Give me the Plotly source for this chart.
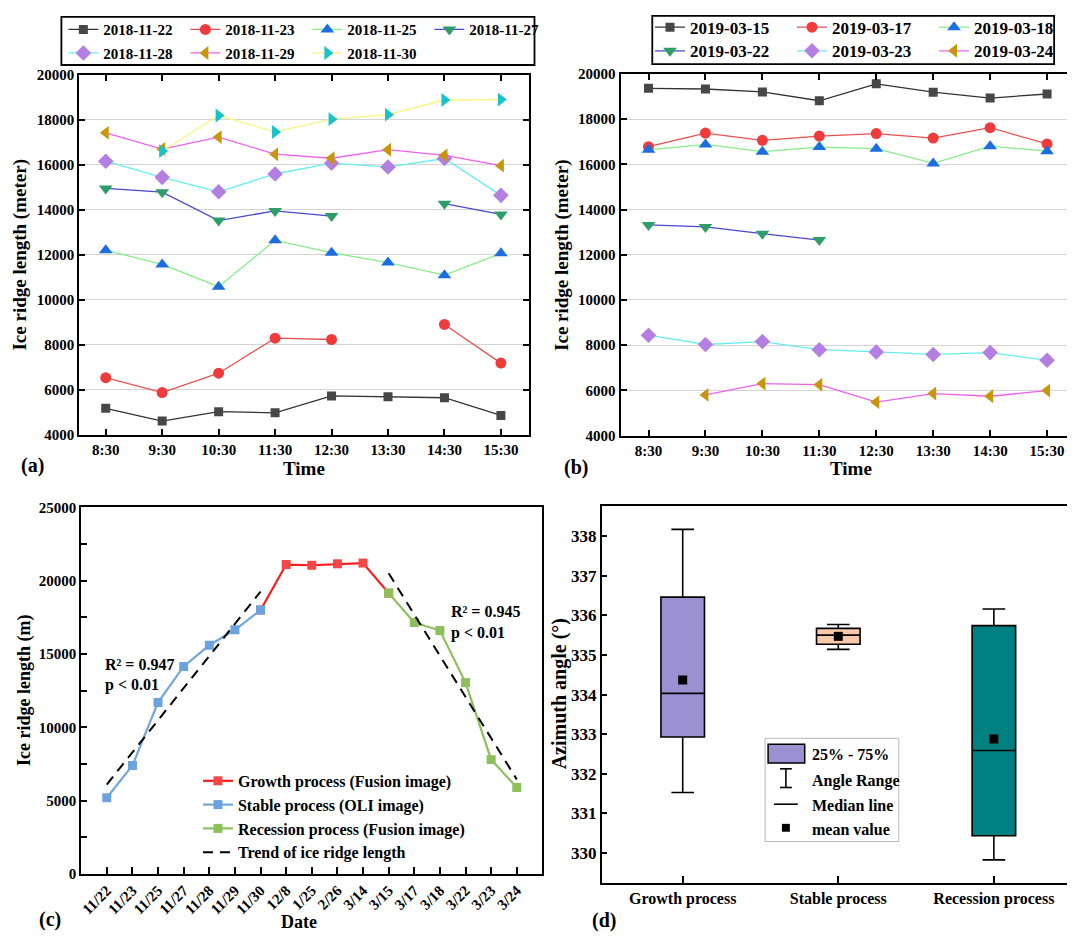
import plotly.graph_objects as go

W, H = 1076, 939
FONT = "Liberation Serif"

# ---------------- data ----------------
times = ["8:30", "9:30", "10:30", "11:30", "12:30", "13:30", "14:30", "15:30"]

dates_a = ["2018-11-22", "2018-11-23", "2018-11-25", "2018-11-27",
           "2018-11-28", "2018-11-29", "2018-11-30"]
a_1122 = [5170, 4600, 5020, 4970, 5720, 5680, 5640, 4850]
a_1123 = [6530, 5870, 6730, 8290, 8230, None, 8900, 7180]
a_1125 = [12200, 11570, 10580, 12640, 12090, 11650, 11090, 12060]
a_1127 = [14950, 14780, 13520, 13950, 13720, None, 14270, 13790]
a_1128 = [16160, 15440, 14800, 15590, 16070, 15900, 16280, 14640]
a_1129 = [17420, 16700, 17230, 16470, 16290, 16670, 16420, 15960]
a_1130 = [None, 16610, 18190, 17460, 18030, 18230, 18880, 18900]

dates_b = ["2019-03-15", "2019-03-17", "2019-03-18",
           "2019-03-22", "2019-03-23", "2019-03-24"]
b_0315 = [19360, 19330, 19200, 18810, 19560, 19190, 18930, 19110]
b_0317 = [16780, 17380, 17060, 17250, 17360, 17160, 17620, 16900]
b_0318 = [16640, 16880, 16560, 16760, 16690, 16040, 16800, 16580]
b_0322 = [13320, 13230, 12930, 12650, None, None, None, None]
b_0323 = [8440, 8030, 8160, 7800, 7700, 7590, 7670, 7330]
b_0324 = [None, 5800, 6300, 6250, 5480, 5860, 5740, 5990]

dates_c = ["11/22", "11/23", "11/25", "11/27", "11/28", "11/29", "11/30", "12/8",
           "1/25", "2/26", "3/14", "3/15", "3/17", "3/18", "3/22", "3/23", "3/24"]
growth_x = ["11/30", "12/8", "1/25", "2/26", "3/14", "3/15"]
growth_y = [18000, 21100, 21050, 21150, 21200, 19150]
stable_x = ["11/22", "11/23", "11/25", "11/27", "11/28", "11/29", "11/30"]
stable_y = [5200, 7400, 11700, 14150, 15600, 16650, 18000]
recess_x = ["3/15", "3/17", "3/18", "3/22", "3/23", "3/24"]
recess_y = [19150, 17150, 16600, 13050, 7800, 5900]
trend1_x = ["11/22", "11/30"]
trend1_y = [6100, 19250]
trend2_x = ["3/15", "3/24"]
trend2_y = [20500, 6450]

process = ["Growth process", "Stable process", "Recession process"]
q1 = [332.93, 335.27, 330.44]
median = [334.03, 335.50, 332.59]
q3 = [336.46, 335.67, 335.74]
lower = [331.53, 335.14, 329.83]
upper = [338.17, 335.77, 336.16]
mean = [334.37, 335.47, 332.88]

# ---------------- styles ----------------
styles = [  # (symbol, marker color, line color, size)
    ("square", "#474747", "#333333", 9),
    ("circle", "#ef3b3b", "#e85050", 11),
    ("triangle-up", "#1c6ee0", "#86ee86", 12),
    ("triangle-down", "#2e9e68", "#4848d0", 12),
    ("diamond", "#b47ee2", "#66eeee", 12),
    ("triangle-left", "#c8960c", "#f060f0", 12),
    ("triangle-right", "#18c2c8", "#f6f680", 12),
]
box_colors = ["#9b91d2", "#f9c9ab", "#008080"]


def px(x):
    return x / W


def py(y):
    return 1 - y / H


fig = go.Figure()

series_a = [a_1122, a_1123, a_1125, a_1127, a_1128, a_1129, a_1130]
for i, (name, vals) in enumerate(zip(dates_a, series_a)):
    sym, mc, lc, sz = styles[i]
    fig.add_trace(go.Scatter(
        x=times, y=vals, name=name, mode="lines+markers",
        line=dict(color=lc, width=1.3),
        marker=dict(symbol=sym, color=mc, size=sz, line=dict(width=0)),
        xaxis="x", yaxis="y", legend="legend" if i < 4 else "legend2"))

series_b = [b_0315, b_0317, b_0318, b_0322, b_0323, b_0324]
for i, (name, vals) in enumerate(zip(dates_b, series_b)):
    sym, mc, lc, sz = styles[i]
    fig.add_trace(go.Scatter(
        x=times, y=vals, name=name, mode="lines+markers",
        line=dict(color=lc, width=1.3),
        marker=dict(symbol=sym, color=mc, size=sz, line=dict(width=0)),
        xaxis="x2", yaxis="y2", legend="legend3" if i < 3 else "legend4"))

fig.add_trace(go.Scatter(
    x=growth_x, y=growth_y, name="Growth process (Fusion image)",
    mode="lines+markers", line=dict(color="#ff1a1a", width=2.2),
    marker=dict(symbol="square", color="#f24848", size=9),
    xaxis="x3", yaxis="y3", legend="legend5"))
fig.add_trace(go.Scatter(
    x=stable_x, y=stable_y, name="Stable process (OLI image)",
    mode="lines+markers", line=dict(color="#72a7dc", width=2.2),
    marker=dict(symbol="square", color="#6ba3dc", size=9),
    xaxis="x3", yaxis="y3", legend="legend5"))
fig.add_trace(go.Scatter(
    x=recess_x, y=recess_y, name="Recession process (Fusion image)",
    mode="lines+markers", line=dict(color="#8dc05a", width=2.2),
    marker=dict(symbol="square", color="#8dc05a", size=9),
    xaxis="x3", yaxis="y3", legend="legend5"))
fig.add_trace(go.Scatter(
    x=trend1_x, y=trend1_y, name="Trend of ice ridge length", mode="lines",
    line=dict(color="black", width=2, dash="10px,7px"),
    xaxis="x3", yaxis="y3", legend="legend5"))
fig.add_trace(go.Scatter(
    x=trend2_x, y=trend2_y, name="Trend of ice ridge length", mode="lines",
    line=dict(color="black", width=2, dash="10px,7px"), showlegend=False,
    xaxis="x3", yaxis="y3"))

for i, p in enumerate(process):
    fig.add_trace(go.Box(
        x=[p], q1=[q1[i]], median=[median[i]], q3=[q3[i]],
        lowerfence=[lower[i]], upperfence=[upper[i]],
        fillcolor=box_colors[i], line=dict(color="black", width=1.6),
        width=0.28, whiskerwidth=0.52, boxpoints=False, showlegend=False,
        xaxis="x4", yaxis="y4", name=p, hoverinfo="skip"))
fig.add_trace(go.Scatter(
    x=process, y=mean, mode="markers", showlegend=False,
    marker=dict(symbol="square", color="black", size=9),
    xaxis="x4", yaxis="y4"))

tickfont = dict(family=FONT, size=15, color="black", weight="bold")
axcommon = dict(showline=True, linecolor="black", linewidth=2, ticks="inside",
                tickcolor="black", tickwidth=1.5, zeroline=False,
                tickfont=tickfont)

fig.update_layout(
    width=W, height=H, margin=dict(l=0, r=0, t=0, b=0),
    paper_bgcolor="white", plot_bgcolor="white",
    font=dict(family=FONT, color="black", weight="bold"),
    xaxis=dict(domain=[px(78), px(532)], anchor="y", type="category",
               range=[-0.47, 7.49], mirror="ticks", ticklen=6,
               showgrid=False, **axcommon),
    yaxis=dict(domain=[py(434), py(68)], anchor="x", range=[4000, 20000],
               dtick=2000, tickformat="d", mirror="ticks", ticklen=6,
               showgrid=True, gridcolor="#d4d4d4", gridwidth=1, **axcommon),
    xaxis2=dict(domain=[px(625), 1], anchor="y2", type="category",
                range=[-0.49, 7.35], mirror="ticks", ticklen=6,
                showgrid=False, **axcommon),
    yaxis2=dict(domain=[py(435), py(67)], anchor="x2", range=[4000, 20000],
                dtick=2000, tickformat="d", mirror=False, ticklen=6,
                showgrid=True, gridcolor="#d4d4d4", gridwidth=1, **axcommon),
    xaxis3=dict(domain=[px(80), px(546)], anchor="y3", type="category",
                categoryorder="array", categoryarray=dates_c,
                range=[-1, 17], mirror=True, ticklen=7, tickangle=-45,
                showgrid=False, **axcommon),
    yaxis3=dict(domain=[py(881), py(508)], anchor="x3", range=[0, 25000],
                dtick=5000, tickformat="d", mirror=True, ticklen=6,
                showgrid=False,
                minor=dict(dtick=2500, ticks="inside", ticklen=6,
                           tickcolor="black", tickwidth=1.5),
                **axcommon),
    xaxis4=dict(domain=[px(606), 1], anchor="y4", type="category",
                range=[-0.52, 2.47], mirror=True, ticklen=7,
                showgrid=False, **{**axcommon, "tickfont": dict(
                    family=FONT, size=16, color="black", weight="bold")}),
    yaxis4=dict(domain=[py(890), py(507)], anchor="x4",
                range=[329.25, 338.75], dtick=1, mirror=False, ticklen=5,
                showgrid=False, **{**axcommon, "tickfont": dict(
                    family=FONT, size=17, color="black", weight="bold")}),
    showlegend=True,
)

legfont_a = dict(family=FONT, size=15, color="black", weight="bold")
legfont_b = dict(family=FONT, size=17, color="black", weight="bold")
legfont_c = dict(family=FONT, size=16, color="black", weight="bold")
common_leg = dict(orientation="h", xanchor="left", yanchor="middle",
                  bgcolor="rgba(0,0,0,0)", borderwidth=0,
                  entrywidthmode="pixels", tracegroupgap=0)
fig.update_layout(
    legend=dict(x=px(62), y=py(22), entrywidth=77, font=legfont_a, **common_leg),
    legend2=dict(x=px(62), y=py(46), entrywidth=77, font=legfont_a, **common_leg),
    legend3=dict(x=px(655), y=py(20), entrywidth=97, font=legfont_b, **common_leg),
    legend4=dict(x=px(655), y=py(44), entrywidth=97, font=legfont_b, **common_leg),
    legend5=dict(x=px(198), y=py(769), xanchor="left", yanchor="top",
                 orientation="v", bgcolor="rgba(0,0,0,0)", borderwidth=0,
                 tracegroupgap=0, font=legfont_c),
)

shapes = []
# legend frames for (a) and (b)
shapes.append(dict(type="rect", xref="paper", yref="paper",
                   x0=px(60), x1=px(538), y0=py(58), y1=py(9),
                   line=dict(color="black", width=1.8)))
shapes.append(dict(type="rect", xref="paper", yref="paper",
                   x0=px(657), x1=px(1063), y0=py(57), y1=py(8),
                   line=dict(color="black", width=1.8)))
# legend of (d)
shapes.append(dict(type="rect", xref="paper", yref="paper",
                   x0=px(771), x1=px(906), y0=py(848), y1=py(743),
                   line=dict(color="#b8b8b8", width=1)))
shapes.append(dict(type="rect", xref="paper", yref="paper",
                   x0=px(774), x1=px(811), y0=py(768), y1=py(749),
                   fillcolor=box_colors[0], line=dict(color="black", width=1.5)))
for seg in [(792, 774, 792, 793), (786, 774, 798, 774), (786, 793, 798, 793),
            (780, 810, 804, 810)]:
    shapes.append(dict(type="line", xref="paper", yref="paper",
                       x0=px(seg[0]), y0=py(seg[1]), x1=px(seg[2]), y1=py(seg[3]),
                       line=dict(color="black", width=1.6)))
shapes.append(dict(type="rect", xref="paper", yref="paper",
                   x0=px(788), x1=px(796), y0=py(838), y1=py(830),
                   fillcolor="black", line=dict(color="black", width=0)))
fig.update_layout(shapes=shapes)

ann = []


def text(x, y, t, size, angle=0, xanchor="center"):
    ann.append(dict(x=px(x), y=py(y), xref="paper", yref="paper", text=t,
                    showarrow=False, textangle=angle, xanchor=xanchor,
                    yanchor="middle",
                    font=dict(family=FONT, size=size, color="black",
                              weight="bold")))


text(18, 251, "Ice ridge length (meter)", 19, -90)
text(566, 251, "Ice ridge length (meter)", 19, -90)
text(305, 468, "Time", 19)
text(858, 468, "Time", 19)
text(22, 694, "Ice ridge length (m)", 18, -90)
text(300, 930, "Date", 18)
text(563, 698, "Azimuth angle (°)", 20, -90)
text(31, 465, "(a)", 20)
text(580, 467, "(b)", 20)
text(49, 927, "(c)", 20)
text(608, 928, "(d)", 20)
text(102, 668, "R² = 0.947", 16, xanchor="left")
text(102, 689, "p < 0.01", 16, xanchor="left")
text(452, 614, "R² = 0.945", 16, xanchor="left")
text(452, 636, "p < 0.01", 16, xanchor="left")
text(816, 759, "25% - 75%", 16, xanchor="left")
text(816, 786, "Angle Range", 16, xanchor="left")
text(816, 811, "Median line", 16, xanchor="left")
text(816, 836, "mean value", 16, xanchor="left")
fig.update_layout(annotations=ann)

fig.write_html("out.html")
